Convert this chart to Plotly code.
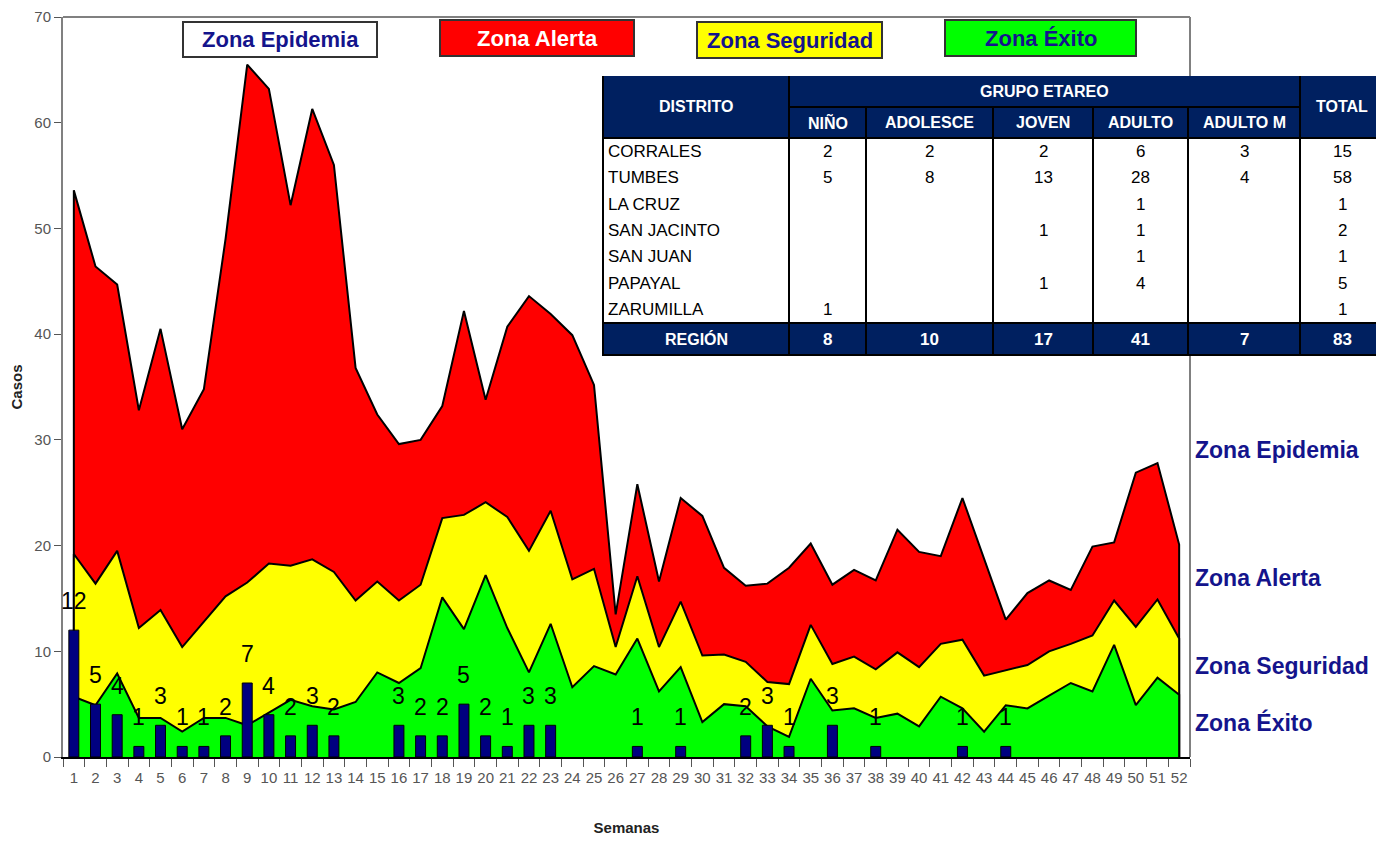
import plotly.graph_objects as go

weeks = [str(i) for i in range(1, 53)]

# Endemic channel limits (upper curve of each zone)
alerta_top = [53.6, 46.4, 44.7, 32.8, 40.5, 31.0, 34.8, 49.0, 65.5, 63.2,
              52.2, 61.3, 56.0, 36.8, 32.4, 29.6, 30.0, 33.2, 42.2, 33.8,
              40.7, 43.6, 41.9, 39.9, 35.2, 13.5, 25.8, 16.6, 24.5, 22.8,
              17.9, 16.2, 16.4, 17.9, 20.2, 16.3, 17.7, 16.7, 21.5, 19.4,
              19.0, 24.5, 18.8, 13.0, 15.5, 16.7, 15.8, 19.9, 20.3, 26.9,
              27.8, 20.1]
seguridad_top = [19.2, 16.4, 19.5, 12.2, 13.9, 10.4, 12.8, 15.2, 16.5, 18.3,
                 18.1, 18.7, 17.5, 14.8, 16.6, 14.8, 16.3, 22.6, 22.9, 24.1,
                 22.7, 19.5, 23.3, 16.8, 17.8, 10.4, 17.1, 10.4, 14.7, 9.6,
                 9.7, 9.0, 7.1, 6.9, 12.5, 8.8, 9.5, 8.3, 9.9, 8.5,
                 10.7, 11.1, 7.7, 8.2, 8.7, 10.0, 10.7, 11.5, 14.8, 12.3,
                 14.9, 11.2]
exito_top = [5.7, 4.9, 7.9, 3.7, 3.7, 2.4, 3.7, 3.7, 3.0, 4.2,
             5.4, 4.8, 4.5, 5.2, 8.0, 7.0, 8.4, 15.1, 12.1, 17.2,
             12.2, 8.0, 12.6, 6.6, 8.6, 7.8, 11.2, 6.2, 8.5, 3.3,
             5.0, 4.8, 2.9, 1.9, 7.4, 4.4, 4.6, 3.7, 4.1, 2.9,
             5.7, 4.6, 2.4, 4.9, 4.6, 5.8, 7.0, 6.2, 10.6, 4.9,
             7.5, 5.9]
casos = [12, 5, 4, 1, 3, 1, 1, 2, 7, 4,
         2, 3, 2, 0, 0, 3, 2, 2, 5, 2,
         1, 3, 3, 0, 0, 0, 1, 0, 1, 0,
         0, 2, 3, 1, 0, 3, 0, 1, 0, 0,
         0, 1, 0, 1, 0, 0, 0, 0, 0, 0,
         0, 0]

# Table data
distritos = ["CORRALES", "TUMBES", "LA CRUZ", "SAN JACINTO", "SAN JUAN", "PAPAYAL", "ZARUMILLA"]
grupos = ["NIÑO", "ADOLESCE", "JOVEN", "ADULTO", "ADULTO M"]
tabla = [
    [2, 2, 2, 6, 3],
    [5, 8, 13, 28, 4],
    [None, None, None, 1, None],
    [None, None, 1, 1, None],
    [None, None, None, 1, None],
    [None, None, 1, 4, None],
    [1, None, None, None, None],
]
totales = [15, 58, 1, 2, 1, 5, 1]
region = [8, 10, 17, 41, 7, 83]

zonas = ["Zona Epidemia", "Zona Alerta", "Zona Seguridad", "Zona Éxito"]

FONT = "Liberation Sans, Arial, sans-serif"
NAVY = "#14148c"

# ---- layout geometry (page pixels) ----
PAGE_W, PAGE_H = 1384, 844
BODY = 8                      # default browser body margin
W, H = PAGE_W - 2 * BODY, PAGE_H - 2 * BODY
L, R, T, B = 63, 1190, 17, 757  # plot area in page pixels


def px(x):
    return (x - L) / (R - L)


def py(y):
    return (B - y) / (B - T)


fig = go.Figure()

xs = [weeks[0]] + weeks + [weeks[-1]]
for vals, col in [(alerta_top, "#FF0000"), (seguridad_top, "#FFFF00"), (exito_top, "#00FF00")]:
    fig.add_trace(go.Scatter(
        x=xs, y=[0] + vals + [0], mode="lines", fill="tozeroy",
        fillcolor=col, line=dict(color="black", width=2), hoverinfo="skip",
        showlegend=False))

fig.add_trace(go.Bar(
    x=weeks, y=[c if c > 0 else None for c in casos], width=0.46, xaxis="x2", yaxis="y2",
    marker=dict(color="#000080", line=dict(color="black", width=1)),
    showlegend=False))

annotations = []
for i, c in enumerate(casos):
    if c > 0:
        annotations.append(dict(x=i, y=c, xref="x", yref="y", text=str(c), showarrow=False,
                                xanchor="center", yanchor="bottom", yshift=14,
                                font=dict(family=FONT, size=23, color="black")))

shapes = []

# top zone boxes
boxes = [
    (183, 377, 22, 57, "white", NAVY),
    (440, 634, 20, 56, "#FF0000", "white"),
    (697, 882, 22, 58, "#FFFF00", NAVY),
    (945, 1136, 20, 56, "#00FF00", NAVY),
]
for (x0, x1, y0, y1, fc, tc), z in zip(boxes, zonas):
    shapes.append(dict(type="rect", xref="paper", yref="paper", x0=px(x0), x1=px(x1),
                       y0=py(y1), y1=py(y0), fillcolor=fc, line=dict(color="#333333", width=2),
                       layer="above"))
    annotations.append(dict(x=px((x0 + x1) / 2), y=py((y0 + y1) / 2), xref="paper", yref="paper",
                            xanchor="center", yanchor="middle",
                            text="<b>%s</b>" % z, showarrow=False,
                            font=dict(family=FONT, size=22, color=tc)))

# right side labels
for z, yy in zip(zonas, [450, 578, 666, 722]):
    annotations.append(dict(x=px(1193), y=py(yy), xref="paper", yref="paper",
                            xanchor="left", yanchor="middle",
                            text="<b>%s</b>" % z, showarrow=False,
                            font=dict(family=FONT, size=23, color=NAVY)))

# ---- table ----
HDR = "#002060"
cols = [603, 789, 866, 993, 1093, 1188, 1300, 1384]
t_top, h1, h2, d_bot, t_bot = 76, 107, 138, 323, 355
row_h = (d_bot - h2) / len(distritos)

shapes.append(dict(type="rect", xref="paper", yref="paper", x0=px(cols[0]), x1=px(cols[-1]),
                   y0=py(h2), y1=py(t_top), fillcolor=HDR, line=dict(width=0), layer="above"))
shapes.append(dict(type="rect", xref="paper", yref="paper", x0=px(cols[0]), x1=px(cols[-1]),
                   y0=py(d_bot), y1=py(h2), fillcolor="white", line=dict(width=0), layer="above"))
shapes.append(dict(type="rect", xref="paper", yref="paper", x0=px(cols[0]), x1=px(cols[-1]),
                   y0=py(t_bot), y1=py(d_bot), fillcolor=HDR, line=dict(color="black", width=2),
                   layer="above"))
# vertical dividers
for i, cx in enumerate(cols[:-1]):
    y_start = t_top if i in (0, 1, 6) else h1
    shapes.append(dict(type="line", xref="paper", yref="paper", x0=px(cx), x1=px(cx),
                       y0=py(t_bot), y1=py(y_start), line=dict(color="black", width=2), layer="above"))
# horizontal lines
shapes.append(dict(type="line", xref="paper", yref="paper", x0=px(cols[1]), x1=px(cols[6]),
                   y0=py(h1), y1=py(h1), line=dict(color="black", width=2), layer="above"))
shapes.append(dict(type="line", xref="paper", yref="paper", x0=px(cols[0]), x1=px(cols[-1]),
                   y0=py(h2), y1=py(h2), line=dict(color="black", width=2), layer="above"))


def cell_text(x, y, text, color="black", bold=False, anchor="center", size=17):
    annotations.append(dict(x=px(x), y=py(y), xref="paper", yref="paper", xanchor=anchor,
                            yanchor="middle",
                            text=("<b>%s</b>" % text) if bold else text, showarrow=False,
                            font=dict(family=FONT, size=size, color=color)))


cell_text((cols[0] + cols[1]) / 2, (t_top + h2) / 2, "DISTRITO", "white", True, size=16)
cell_text((cols[6] + cols[7]) / 2, (t_top + h2) / 2, "TOTAL", "white", True, size=16)
cell_text((cols[1] + cols[6]) / 2, (t_top + h1) / 2, "GRUPO ETAREO", "white", True, size=16)
for j, g in enumerate(grupos):
    cell_text((cols[j + 1] + cols[j + 2]) / 2, (h1 + h2) / 2, g, "white", True, size=16)

for i, d in enumerate(distritos):
    yc = h2 + row_h * (i + 0.5)
    cell_text(cols[0] + 3, yc, d, anchor="left")
    for j, v in enumerate(tabla[i]):
        if v is not None:
            cell_text((cols[j + 1] + cols[j + 2]) / 2, yc, str(v))
    cell_text((cols[6] + cols[7]) / 2, yc, str(totales[i]))

yc = (d_bot + t_bot) / 2
cell_text((cols[0] + cols[1]) / 2, yc, "REGIÓN", "white", True, size=16)
for j, v in enumerate(region):
    cell_text((cols[j + 1] + cols[j + 2]) / 2, yc, str(v), "white", True, size=17)

# plot frame (top & right grey lines)
shapes.append(dict(type="line", xref="paper", yref="paper", x0=0, x1=1, y0=1, y1=1,
                   line=dict(color="#808080", width=2), layer="below"))
shapes.append(dict(type="line", xref="paper", yref="paper", x0=1, x1=1, y0=0, y1=1,
                   line=dict(color="#808080", width=2), layer="below"))

fig.update_layout(
    width=W, height=H,
    margin=dict(l=L - BODY, r=BODY + W - R, t=T - BODY, b=BODY + H - B, autoexpand=False),
    paper_bgcolor="white", plot_bgcolor="white",
    showlegend=False,
    shapes=shapes, annotations=annotations,
    xaxis=dict(type="category", range=[-0.5, 51.5], tickson="boundaries", ticks="outside",
               ticklen=8, tickcolor="#555555", showline=True, linecolor="black", linewidth=2,
               showgrid=False, ticklabelstandoff=6, tickangle=0, automargin=False,
               tickfont=dict(family=FONT, size=15, color="#555555"),
               title=dict(text="<b>Semanas</b>", font=dict(family=FONT, size=15, color="#222222"),
                          standoff=44)),
    yaxis=dict(range=[0, 70], dtick=10, ticks="outside", ticklen=7, tickcolor="#555555",
               showline=True, linecolor="#808080", linewidth=2, showgrid=False, zeroline=False,
               automargin=False,
               tickfont=dict(family=FONT, size=15, color="#555555"),
               title=dict(text="<b>Casos</b>", font=dict(family=FONT, size=15, color="#222222"),
                          standoff=14)),
    xaxis2=dict(type="category", range=[-0.5, 51.5], overlaying="x", visible=False),
    yaxis2=dict(range=[0, 70], overlaying="y", visible=False),
)

fig.write_html("out.html")
